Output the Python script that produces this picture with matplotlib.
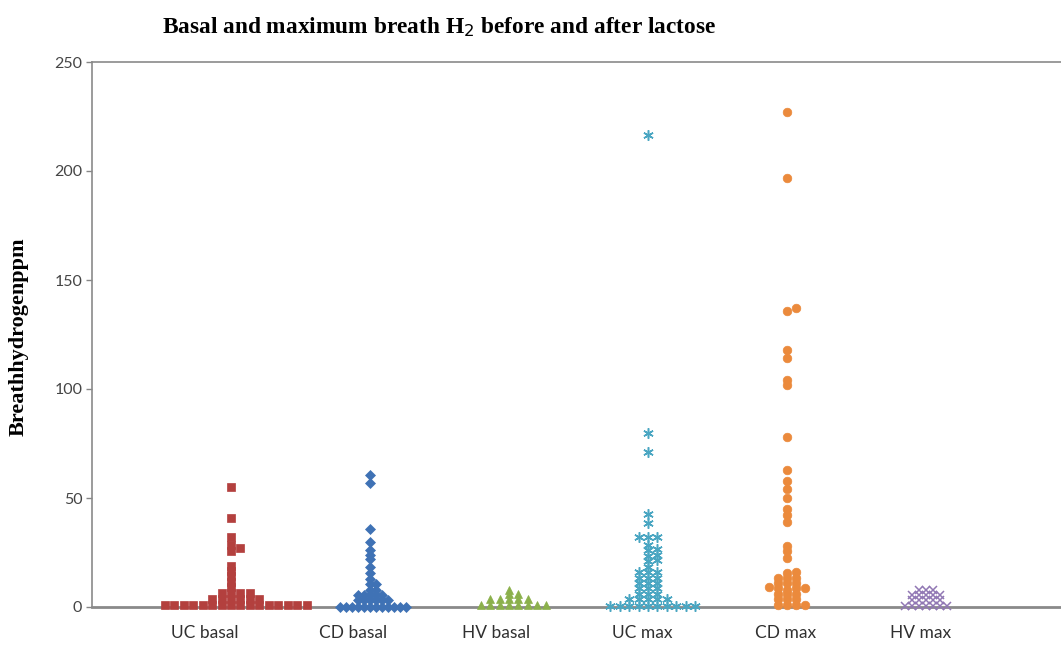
import numpy as np
import matplotlib
matplotlib.use("Agg")
import matplotlib.pyplot as plt

# ---------------- data (breath H2, ppm) ----------------
categories = ["UC basal", "CD basal", "HV basal", "UC max", "CD max", "HV max"]

uc_basal = [1, 1, 1, 1, 1, 1, 1, 1, 1, 1, 1, 1, 1, 1, 1, 1,
            3.5, 3.5, 3.5, 3.5, 3.5, 3.5,
            6.5, 6.5, 6.5, 6.5,
            9, 11.5, 14, 16.5, 19, 25.5, 27, 28.5, 32, 41, 55]

cd_basal = [0, 0, 0, 0, 0, 0, 0, 0, 0, 0, 0, 0,
            3, 3, 3, 3, 3, 3,
            5.5, 5.5, 5.5, 5.5, 5.5,
            8, 8, 10.5, 10.5,
            13, 15.5, 18.5, 22, 24, 26, 30, 36, 57, 60.5]

hv_basal = [1, 1, 1, 1, 1, 1, 1, 1,
            3.5, 3.5, 3.5, 3.5, 3.5,
            6, 6, 8]

uc_max = [0.5, 0.5, 0.5, 0.5, 0.5, 0.5, 0.5, 0.5, 0.5, 0.5,
          3.5, 3.5, 3.5, 3.5, 3.5,
          6, 6, 6, 8.5, 8.5, 8.5, 11, 11, 11, 13.5, 13.5, 13.5, 16, 16, 16,
          18.5, 21, 21.5, 23.5, 24, 26, 26.5, 28.5, 32, 32, 32,
          38.5, 42.5, 71, 80, 216.5]

cd_max = [1, 1, 1, 1,
          3.5, 3.5, 3.5, 6, 6, 6,
          8, 8.5, 8.5, 8.5, 9,
          11, 11, 11, 13.5, 13.5, 13.5, 15.5, 16,
          22.5, 25.5, 28, 39, 42, 45, 50, 54, 58, 63, 78,
          102, 104, 114, 118, 136, 137, 197, 227]

hv_max = [0.5, 0.5, 0.5, 0.5, 0.5, 0.5, 0.5,
          3, 3, 3, 3, 3,
          5.5, 5.5, 5.5, 5.5, 5.5,
          8, 8, 8]

yticks = [0, 50, 100, 150, 200, 250]

# ---------------- styling ----------------
groups = [uc_basal, cd_basal, hv_basal, uc_max, cd_max, hv_max]
styles = [
    dict(marker="s", color="#B3403E", ms=6.0, step=0.068),
    dict(marker="D", color="#3F72B5", ms=5.0, step=0.043),
    dict(marker="^", color="#8BB04B", ms=6.3, step=0.067),
    dict(marker=(6, 2, 0), color="#4AA6C2", ms=7.5, step=0.068),
    dict(marker="o", color="#EB8A3C", ms=6.2, step=0.065),
    dict(marker="x", color="#9178B4", ms=5.5, step=0.05),
]
ROW_H = 2.5


def dot_offsets(values, step):
    """Spread points sharing a value band horizontally: 0, +1, -1, +2, -2 ..."""
    vals = np.sort(np.asarray(values, dtype=float))
    counts = {}
    offs = []
    for v in vals:
        r = int(v // ROW_H)
        k = counts.get(r, 0)
        counts[r] = k + 1
        idx = (k + 1) // 2 * (1 if k % 2 == 1 else -1)
        offs.append(idx * step)
    return vals, np.array(offs)


W, H = 1061, 653
fig = plt.figure(figsize=(W / 100, H / 100), dpi=100)
ax = fig.add_axes([92 / W, 1 - 607 / H, 973 / W, 545 / H])

for i, (vals, st) in enumerate(zip(groups, styles)):
    v, off = dot_offsets(vals, st["step"])
    x = (i + 1) + off
    mk = st["marker"]
    if mk in ("x",) or isinstance(mk, tuple):
        ax.plot(x, v, linestyle="none", marker=mk, markersize=st["ms"],
                markeredgecolor=st["color"], markeredgewidth=1.1,
                clip_on=False, zorder=3)
    else:
        ax.plot(x, v, linestyle="none", marker=mk, markersize=st["ms"],
                markerfacecolor=st["color"], markeredgecolor=st["color"],
                markeredgewidth=0.5, clip_on=False, zorder=3)

ax.set_xlim(0, 7)
ax.set_ylim(0, 250)
ax.set_yticks(yticks)
ax.set_yticklabels([str(t) for t in yticks], fontsize=11.5,
                   family=["Lato", "DejaVu Sans"], color="#454545")

label_x = [0.81, 1.88, 2.91, 3.96, 4.99, 5.96]
ax.set_xticks(label_x)
ax.set_xticklabels(categories, fontsize=12.5, family=["Lato", "DejaVu Sans"],
                   color="#303030")
ax.tick_params(axis="x", length=0, pad=13)
ax.tick_params(axis="y", length=4, width=1, color="#868686", pad=3)

for s in ("left", "top"):
    ax.spines[s].set_color("#8a8a8a")
    ax.spines[s].set_linewidth(1.2)
ax.spines["bottom"].set_color("#8a8a8a")
ax.spines["bottom"].set_linewidth(2.0)
ax.spines["right"].set_visible(False)

fig.text(439 / W, 1 - 27 / H,
         "Basal and maximum breath H$_2$ before and after lactose",
         ha="center", va="center", fontsize=16.8, fontweight="bold",
         family=["Liberation Serif", "DejaVu Serif"], color="black")

fig.text(19 / W, 1 - 337 / H, "Breathhydrogenppm", rotation=90,
         ha="center", va="center", fontsize=16, fontweight="bold",
         family=["Liberation Serif", "DejaVu Serif"], color="black")

fig.savefig("out.png", dpi=100, facecolor="white")
